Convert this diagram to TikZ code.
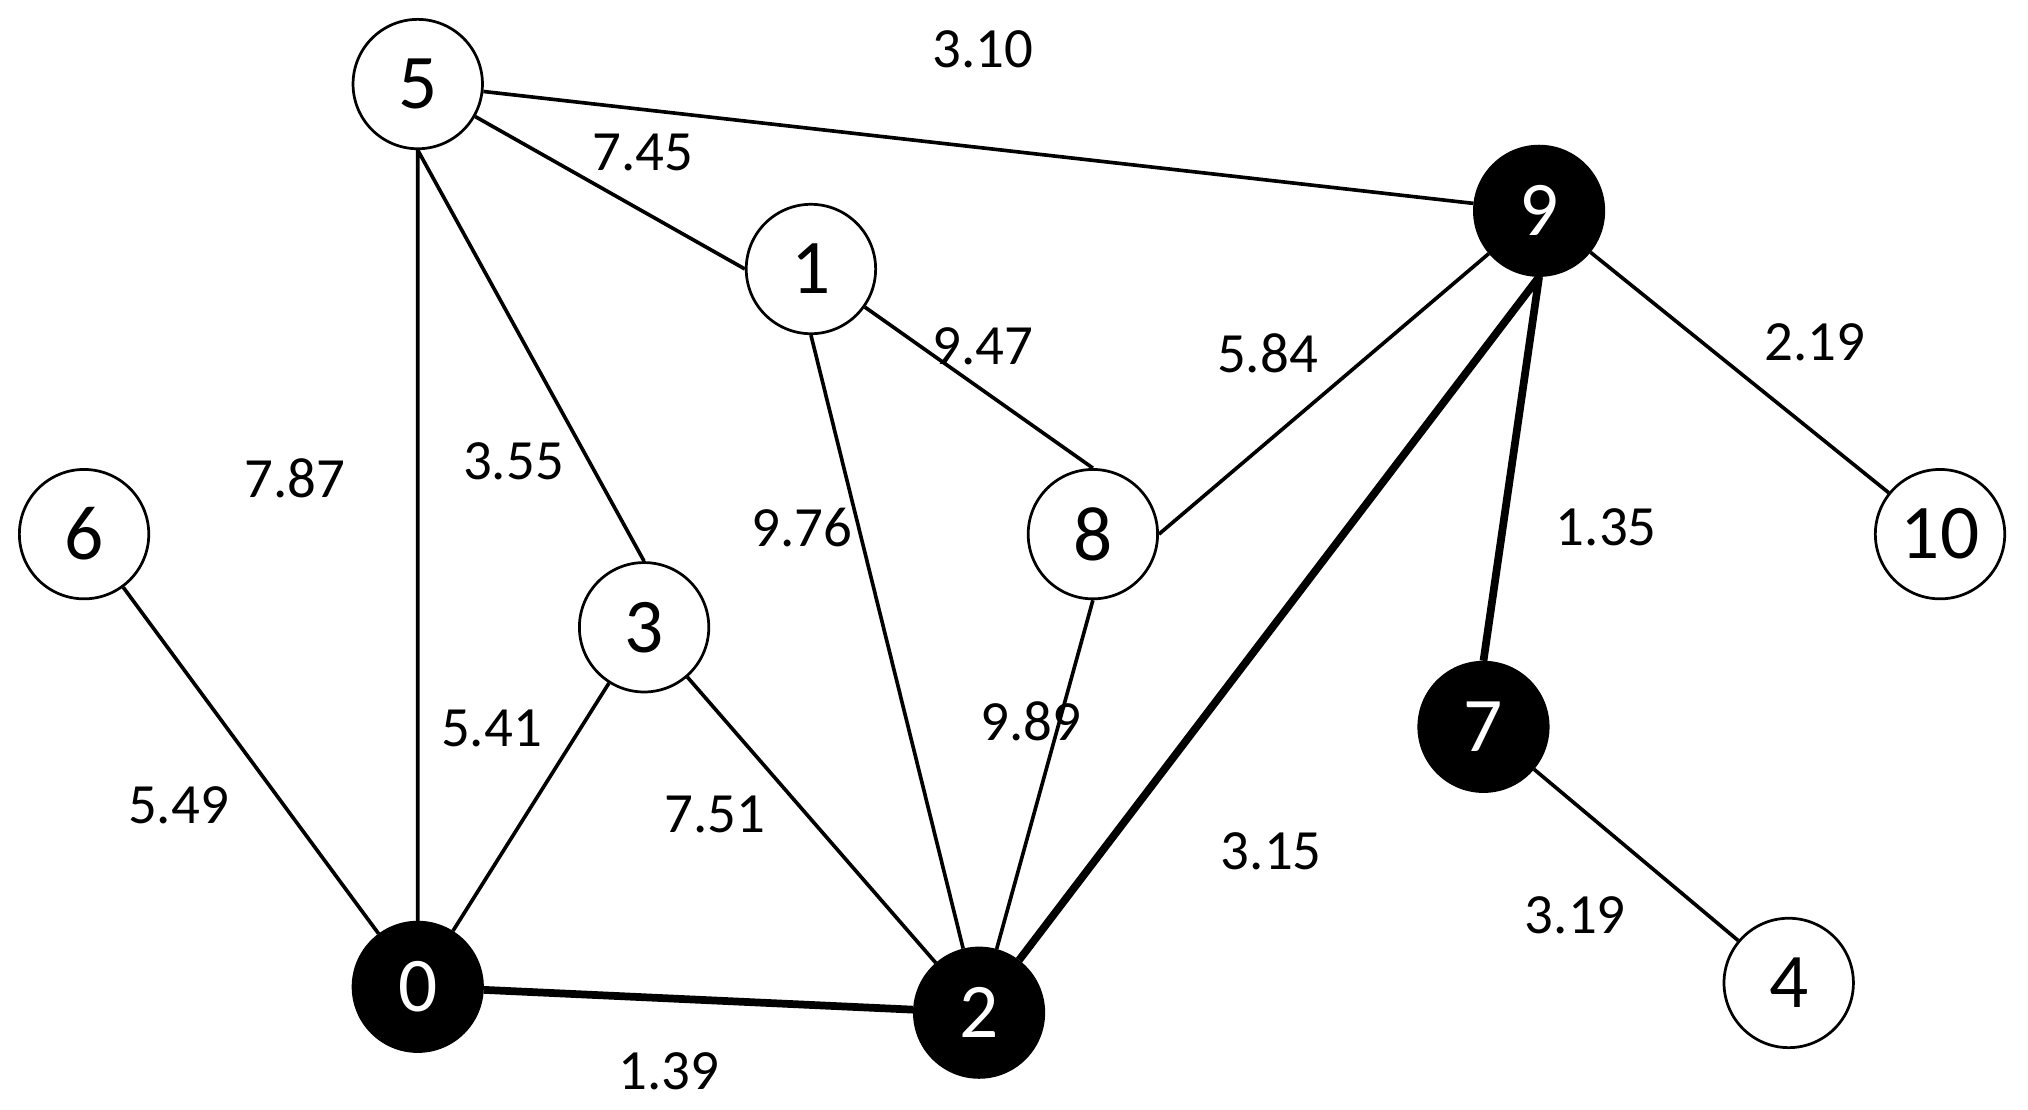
\documentclass[tikz,border=0pt]{standalone}
\usepackage{fontspec}
\setmainfont{Carlito}
\begin{document}
\begin{tikzpicture}[x=0.01cm,y=-0.01cm,
  vtx/.style={circle,draw,line width=0.6pt,minimum size=1cm,inner sep=0pt,font=\fontsize{17}{20}\selectfont,fill=white},
  blk/.style={vtx,fill=black,text=white},
  thin/.style={line width=0.8pt},
  thick/.style={line width=1.7pt},
  lbl/.style={font=\fontsize{12.5}{15}\selectfont}]
\useasboundingbox (0,0) rectangle (1568,858);
\node[vtx] (n5) at (323,65) {5};
\node[vtx] (n1) at (627,208) {1};
\node[blk] (n9) at (1190,163) {9};
\node[vtx] (n6) at (65,413) {6};
\node[vtx] (n8) at (845,413) {8};
\node[vtx] (n10) at (1500,413) {10};
\node[vtx] (n3) at (498,485) {3};
\node[blk] (n7) at (1147,562) {7};
\node[blk] (n0) at (323,763) {0};
\node[blk] (n2) at (757,783) {2};
\node[vtx] (n4) at (1383,760) {4};
\begin{scope}[on background layer/.style={}]
\draw[thin] (n5)--(n9) (n5)--(n1.west) (n5.south)--(n0) (n5.south)--(n3.north) (n1)--(n8.north) (n1.south)--(n2)
  (n9)--(n8.east) (n9)--(n10) (n6)--(n0) (n3)--(n0) (n3)--(n2) (n8.south)--(n2) (n7)--(n4);
\draw[thick] (n0)--(n2) (n2)--(n9.south) (n9.south)--(n7.north);
\end{scope}
\node[lbl] (l1) at (760,38) {3.10};
\node[lbl] (l2) at (497,118) {7.45};
\node[lbl] (l3) at (760,268) {9.47};
\node[lbl] (l4) at (980,273) {5.84};
\node[lbl] (l5) at (1403,265) {2.19};
\node[lbl] (l6) at (228,370) {7.87};
\node[lbl] (l7) at (397,357) {3.55};
\node[lbl] (l8) at (620,408) {9.76};
\node[lbl] (l9) at (1242,408) {1.35};
\node[lbl] (l10) at (380,563) {5.41};
\node[lbl] (l11) at (797,558) {9.89};
\node[lbl] (l12) at (138,623) {5.49};
\node[lbl] (l13) at (553,630) {7.51};
\node[lbl] (l14) at (983,658) {3.15};
\node[lbl] (l15) at (1218,708) {3.19};
\node[lbl] (l16) at (517,828) {1.39};
\end{tikzpicture}
\end{document}
